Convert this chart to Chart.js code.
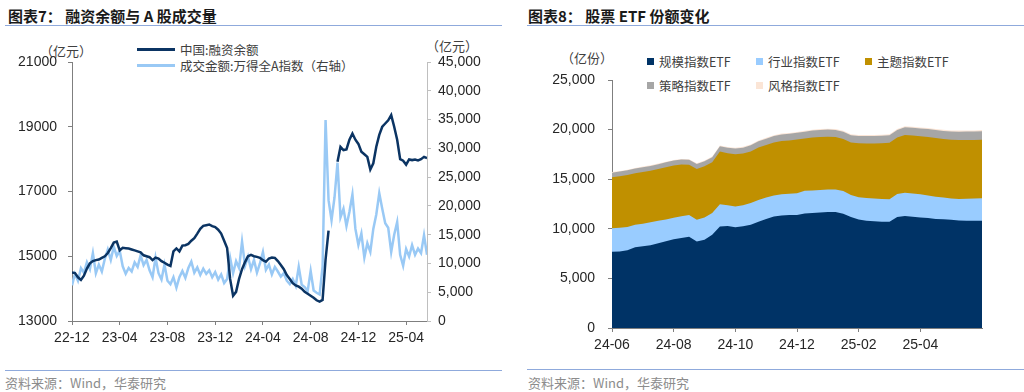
<!DOCTYPE html>
<html>
<head>
<meta charset="utf-8">
<script src="https://cdn.jsdelivr.net/npm/chart.js@4.4.0/dist/chart.umd.min.js"></script>
<style>
  body { margin: 0; width: 1024px; height: 392px; background: #fff; position: relative; overflow: hidden;
         font-family: 'Noto Sans CJK SC', 'Liberation Sans', sans-serif; }
  .abs { position: absolute; }
  .title { font-size: 15px; font-weight: bold; color: #1a1a1a; top: 5px; white-space: nowrap; }
  .rule { height: 1px; background: #8faadc; }
  .source { font-size: 13px; color: #8c8c8c; top: 373px; white-space: nowrap; }
  .unit { font-size: 13px; color: #404040; white-space: nowrap; }
  .leg { font-size: 12.5px; color: #404040; white-space: nowrap; display: flex; align-items: center; }
  .leg i { display: inline-block; margin-right: 5px; }
  canvas { position: absolute; }
</style>
</head>
<body>
<div class="abs title" style="left:8px">图表7：&nbsp;融资余额与 A 股成交量</div>
<div class="abs rule" style="left:5px; top:25px; width:497px"></div>
<div class="abs title" style="left:528px">图表8：&nbsp;股票 ETF 份额变化</div>
<div class="abs rule" style="left:527px; top:25px; width:497px"></div>

<div class="abs unit" style="left:40px; top:41px">（亿元）</div>
<div class="abs unit" style="left:426px; top:36px">（亿元）</div>
<div id="legendLeft"></div>

<div class="abs unit" style="left:561px; top:48px">（亿份）</div>
<div id="legendRight"></div>

<canvas id="marginChart" width="512" height="326" style="left:0; top:30px"></canvas>
<canvas id="etfChart" width="512" height="320" style="left:512px; top:40px"></canvas>

<div class="abs rule" style="left:5px; top:370px; width:497px"></div>
<div class="abs source" style="left:5px">资料来源：Wind，华泰研究</div>
<div class="abs rule" style="left:527px; top:369px; width:497px"></div>
<div class="abs source" style="left:528px">资料来源：Wind，华泰研究</div>

<script>
// ---- chart 7: margin balance vs turnover (weekly samples, 0.25 month apart from 22-12) ----
const marginStep = 0.25;
const marginTickLabels = ['22-12', '23-04', '23-08', '23-12', '24-04', '24-08', '24-12', '25-04'];

const marginBalance = [
  14500, 14480, 14350, 14270, 14400, 14620, 14780, 14850, 14880, 14900,
  14950, 15000, 15100, 15250, 15420, 15450, 15180, 15260, 15250, 15240,
  15210, 15180, 15150, 15120, 15030, 15000, 14970, 14880, 14960, 14930,
  14850, 14800, 14740, 14700, 15150, 15240, 15150, 15330, 15340, 15380,
  15480, 15560, 15700, 15850, 15940, 15960, 15980, 15930, 15900, 15820,
  15700, 15480, 15250, 14300, 13780, 13900, 14300, 14600, 14820, 15000,
  15040, 15000, 14980, 14950, 14880, 14830, 14930, 14960, 14950, 14850,
  14730, 14600, 14420, 14300, 14170, 14100, 14060, 14000, 13900, 13840,
  13780, 13720, 13640, 13600, 13650, 14900, 15790, null, null, 17920,
  18380, 18280, 18300, 18600, 18790, 18600, 18470, 18230, 18150, 18070,
  17680, 17870, 18380, 18750, 19000, 19100, 19200, 19360, 19000, 18600,
  18000, 17950, 17830, 17990, 17970, 17990, 17960, 18000, 18070, 18030
];

const turnover = [
  6200, 8200, 7000, 9200, 8400, 10200, 9000, 11800, 8300, 9800,
  8600, 10800, 12400, 10600, 12900, 11300, 12200, 9500, 8200, 9200,
  8600, 10200, 9400, 11400, 9700, 10600, 8800, 7600, 11000, 8300,
  7200, 9800, 7000, 6400, 7600, 5800, 7600, 8700, 7500, 9200,
  10300, 8400, 9300, 8000, 9100, 8200, 8800, 7600, 8500, 7200,
  8100, 6600, 7300, 11000, 8300, 10400, 9200, 13800, 9600, 11200,
  9000, 10600, 8400, 10000, 12000, 8900, 9800, 8100, 9400, 8600,
  7700, 8300, 7000, 6400, 7300, 6100, 9400, 6300, 5900, 5200,
  8700, 5300, 4900, 4600, 9500, 34900, 21000, 17500, 21500, 27500,
  18000, 19500, 16500, 19000, 22000, 16000, 13200, 15200, 11000, 13500,
  12000, 16000, 18500, 22200, 19500, 17000, 16200, 12000, 15000, 17200,
  11500, 9600, 12500, 11200, 13200, 11500, 12600, 11800, 14900, 11500
];

// ---- chart 8: equity ETF shares by type (0.25 month apart from 24-06) ----
const etfStep = 0.25;
const etfTickLabels = ['24-06', '24-08', '24-10', '24-12', '25-02', '25-04'];
const etfNames = ['规模指数ETF', '行业指数ETF', '主题指数ETF', '策略指数ETF', '风格指数ETF'];

const etfBroad = [
  7690, 7720, 7850, 8150, 8250, 8350, 8550, 8750, 8950, 9080,
  9200, 8720, 8900, 9400, 10220, 10270, 10150, 10260, 10400, 10720,
  11000, 11250, 11350, 11400, 11400, 11550, 11600, 11650, 11700, 11700,
  11520, 11200, 10950, 10800, 10750, 10700, 10720, 11200, 11290, 11220,
  11150, 11080, 11000, 10960, 10900, 10830, 10820, 10820, 10820
];
const etfSector = [
  2360, 2380, 2320, 2250, 2250, 2300, 2270, 2200, 2170, 2190,
  2190, 2180, 2250, 2200, 2250, 2110, 2100, 2120, 2200, 2180,
  2150, 2100, 2130, 2130, 2180, 2280, 2270, 2250, 2250, 2250,
  2280, 2200, 2230, 2300, 2310, 2300, 2260, 2300, 2350, 2350,
  2330, 2270, 2220, 2190, 2150, 2170, 2210, 2230, 2250
];
const etfTheme = [
  5140, 5200, 5250, 5200, 5220, 5200, 5200, 5250, 5260, 5210,
  5060, 5130, 5150, 5100, 5310, 5240, 5270, 5200, 5200, 5300,
  5300, 5350, 5370, 5370, 5420, 5270, 5330, 5350, 5330, 5300,
  5250, 5300, 5440, 5500, 5540, 5620, 5700, 5700, 5820, 5830,
  5850, 5900, 5930, 5900, 5930, 5950, 5920, 5900, 5910
];
const etfStrategy = [
  470, 470, 480, 480, 490, 490, 490, 500, 500, 500,
  500, 500, 510, 520, 540, 560, 580, 600, 610, 620,
  640, 650, 660, 670, 680, 690, 700, 710, 720, 720,
  730, 740, 740, 750, 750, 760, 760, 770, 770, 780,
  790, 800, 810, 820, 830, 840, 850, 850, 860
];
const etfStyle = [
  60, 60, 60, 60, 62, 62, 64, 64, 66, 66,
  68, 68, 70, 72, 74, 76, 78, 80, 80, 82,
  84, 84, 86, 88, 90, 90, 92, 92, 94, 94,
  96, 96, 98, 98, 100, 100, 100, 102, 102, 104,
  104, 106, 106, 108, 108, 110, 110, 110, 112
];

const colors = {
  navy: '#0b3463',
  lightBlue: '#99c9f5',
  etfNavy: '#003366',
  etfBlue: '#99ccff',
  gold: '#c09000',
  gray: '#a6a6a6',
  pink: '#fbe5d6',
  axis: '#7f7f7f',
  axisLight: '#bfbfbf',
  text: '#262626'
};

const tickFont = { family: 'Liberation Sans', size: 14 };

function toPoints(values, step) {
  return values.map((v, i) => ({ x: i * step, y: v }));
}

function fixSize(prop, size) {
  return scale => { scale[prop] = size; };
}

function axisGrid(color) {
  return { display: true, drawOnChartArea: false, drawTicks: true, tickLength: 4, color: color };
}

// legends as plain html
function htmlLegend(id, items, left, top, colWidth, rowHeight, perRow) {
  const box = document.getElementById(id);
  items.forEach((it, i) => {
    const el = document.createElement('div');
    el.className = 'abs leg';
    el.style.left = (left + (i % perRow) * colWidth) + 'px';
    el.style.top = (top + Math.floor(i / perRow) * rowHeight) + 'px';
    el.innerHTML = '<i style="width:' + it.w + 'px;height:' + it.h + 'px;background:' + it.color + '"></i>' + it.label;
    box.appendChild(el);
  });
}

htmlLegend('legendLeft', [
  { label: '中国:融资余额', color: colors.navy, w: 38, h: 3 },
  { label: '成交金额:万得全A指数（右轴）', color: colors.lightBlue, w: 38, h: 3 }
], 137, 40, 0, 16, 1);

htmlLegend('legendRight', [
  { label: etfNames[0], color: colors.etfNavy, w: 7, h: 7 },
  { label: etfNames[1], color: colors.etfBlue, w: 7, h: 7 },
  { label: etfNames[2], color: colors.gold, w: 7, h: 7 },
  { label: etfNames[3], color: colors.gray, w: 7, h: 7 },
  { label: etfNames[4], color: colors.pink, w: 7, h: 7 }
], 647, 52, 109, 24, 3);

new Chart(document.getElementById('marginChart'), {
  type: 'line',
  data: {
    datasets: [
      {
        label: '中国:融资余额',
        data: toPoints(marginBalance, marginStep),
        yAxisID: 'y',
        borderColor: colors.navy,
        borderWidth: 2.5,
        pointRadius: 0,
        spanGaps: false,
        tension: 0
      },
      {
        label: '成交金额:万得全A指数（右轴）',
        data: toPoints(turnover, marginStep),
        yAxisID: 'y1',
        borderColor: colors.lightBlue,
        borderWidth: 2.5,
        pointRadius: 0,
        tension: 0
      }
    ]
  },
  options: {
    responsive: false,
    animation: false,
    layout: { padding: { top: 32, left: 0, right: 0, bottom: 0 } },
    plugins: { legend: { display: false }, tooltip: { enabled: false } },
    scales: {
      x: {
        type: 'linear',
        min: 0,
        max: (marginBalance.length - 1) * marginStep,
        afterFit: fixSize('height', 35),
        afterBuildTicks: s => { s.ticks = marginTickLabels.map((_, i) => ({ value: i * 4 })); },
        grid: axisGrid(colors.axis),
        border: { display: true, color: colors.axis },
        ticks: {
          padding: 5,
          maxRotation: 0,
          autoSkip: false,
          color: colors.text,
          font: tickFont,
          callback: v => marginTickLabels[Math.round(v / 4)] || ''
        }
      },
      y: {
        position: 'left',
        min: 13000,
        max: 21000,
        afterFit: fixSize('width', 72),
        grid: axisGrid(colors.axis),
        border: { display: true, color: colors.axis },
        ticks: { stepSize: 2000, padding: 11, color: colors.text, font: tickFont, callback: v => String(v) }
      },
      y1: {
        position: 'right',
        min: 0,
        max: 45000,
        afterFit: fixSize('width', 85),
        grid: axisGrid(colors.axisLight),
        border: { display: true, color: colors.axisLight },
        ticks: {
          stepSize: 5000,
          padding: 7,
          color: colors.text,
          font: tickFont,
          callback: v => v.toLocaleString('en-US')
        }
      }
    }
  }
});

const etfSeries = [etfBroad, etfSector, etfTheme, etfStrategy, etfStyle];
const etfColors = [colors.etfNavy, colors.etfBlue, colors.gold, colors.gray, colors.pink];
const etfMax = (etfBroad.length - 1) * etfStep;

new Chart(document.getElementById('etfChart'), {
  type: 'line',
  data: {
    datasets: etfSeries.map((values, i) => ({
      label: etfNames[i],
      data: toPoints(values, etfStep),
      backgroundColor: etfColors[i],
      borderColor: etfColors[i],
      borderWidth: 0,
      pointRadius: 0,
      fill: 'origin',
      tension: 0
    }))
  },
  options: {
    responsive: false,
    animation: false,
    layout: { padding: { top: 40, left: 0, right: 42, bottom: 0 } },
    plugins: { legend: { display: false }, tooltip: { enabled: false } },
    scales: {
      x: {
        type: 'linear',
        min: 0,
        max: etfMax,
        afterFit: fixSize('height', 32),
        afterBuildTicks: s => { s.ticks = etfTickLabels.map((_, i) => ({ value: i * 2 })); },
        grid: axisGrid(colors.axis),
        border: { display: true, color: colors.axis },
        ticks: {
          padding: 5,
          maxRotation: 0,
          autoSkip: false,
          color: colors.text,
          font: tickFont,
          callback: v => etfTickLabels[Math.round(v / 2)] || ''
        }
      },
      y: {
        stacked: true,
        min: 0,
        max: 25000,
        afterFit: fixSize('width', 100),
        grid: axisGrid(colors.axis),
        border: { display: true, color: colors.axis },
        ticks: {
          stepSize: 5000,
          padding: 13,
          color: colors.text,
          font: tickFont,
          callback: v => v.toLocaleString('en-US')
        }
      }
    }
  }
});
</script>
</body>
</html>
